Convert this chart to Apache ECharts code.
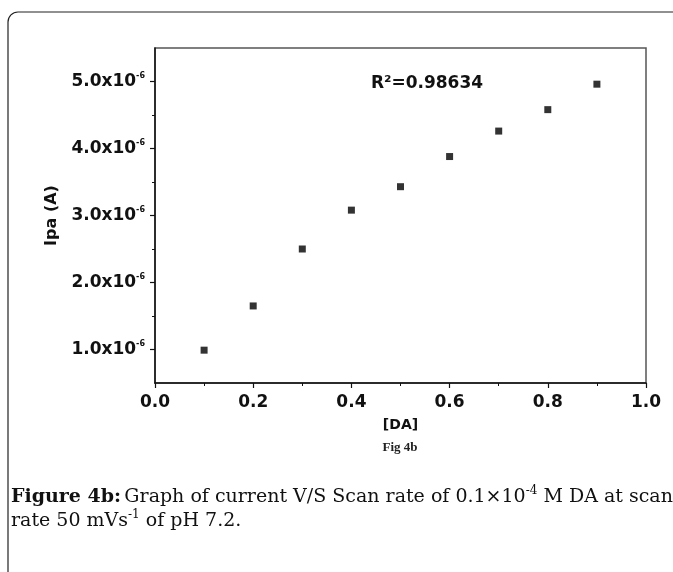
<!DOCTYPE html>
<html><head><meta charset="utf-8">
<script src="https://cdn.jsdelivr.net/npm/echarts@6/dist/echarts.min.js"></script>
<style>html,body{margin:0;padding:0;background:#fff}#c{width:673px;height:572px}</style>
</head><body><div id="c"></div>
<script>
// [DA] concentration values (x) and peak anodic current in units of 1e-6 A (y)
const daValues = [0.1, 0.2, 0.3, 0.4, 0.5, 0.6, 0.7, 0.8, 0.9];
const ipaMicroA = [0.99, 1.65, 2.50, 3.08, 3.43, 3.88, 4.26, 4.58, 4.96];
const xTicks = [0.0, 0.2, 0.4, 0.6, 0.8, 1.0];
const yTicks = [1.0, 2.0, 3.0, 4.0, 5.0];
const yMinorTicks = [1.5, 2.5, 3.5, 4.5];
const rSquaredLabel = 'R²=0.98634';

const chart = echarts.init(document.getElementById('c'), null, {renderer: 'canvas'});
const pts = daValues.map((x, i) => [x, ipaMicroA[i]]);
const axisFont = '"DejaVu Sans", Arial, sans-serif';
const serifFont = '"DejaVu Serif", "Liberation Serif", serif';
chart.setOption({
  animation: false,
  backgroundColor: '#fff',
  grid: {left: 155, top: 48, width: 491, height: 335, show: true, borderColor: '#555', borderWidth: 1.5, backgroundColor: 'transparent'},
  xAxis: {
    type: 'value', min: 0, max: 1, interval: 0.2,
    axisLine: {lineStyle: {color: '#111', width: 1.5}},
    axisTick: {show: true, length: 5, lineStyle: {color: '#111', width: 1.2}},
    minorTick: {show: true, splitNumber: 2, length: 3, lineStyle: {color: '#111', width: 1}},
    splitLine: {show: false},
    axisLabel: {margin: 11, color: '#111', fontFamily: axisFont, fontWeight: 'bold', fontSize: 17,
      formatter: v => v.toFixed(1)},
    name: '[DA]', nameLocation: 'middle', nameGap: 35,
    nameTextStyle: {color: '#111', fontFamily: axisFont, fontWeight: 'bold', fontSize: 14}
  },
  yAxis: [{
    type: 'value', min: 0.5, max: 5.5, interval: 0.5,
    axisLine: {show: true, lineStyle: {color: '#111', width: 1.5}},
    axisTick: {show: true, length: 5, customValues: yTicks, lineStyle: {color: '#111', width: 1.2}},
    splitLine: {show: false},
    axisLabel: {customValues: yTicks, margin: 10, color: '#111',
      formatter: v => '{b|' + v.toFixed(1) + 'x10}{s|-6}',
      rich: {
        b: {fontFamily: axisFont, fontWeight: 'bold', fontSize: 17, lineHeight: 20, color: '#111'},
        s: {fontFamily: axisFont, fontWeight: 'bold', fontSize: 8, lineHeight: 8, verticalAlign: 'top', color: '#111'}
      }},
    name: 'Ipa (A)', nameLocation: 'middle', nameGap: 95, nameRotate: 90,
    nameTextStyle: {color: '#111', fontFamily: axisFont, fontWeight: 'bold', fontSize: 16}
  }, {
    type: 'value', min: 0.5, max: 5.5, interval: 0.5, position: 'left',
    axisLine: {show: false},
    axisTick: {show: true, length: 3, customValues: yMinorTicks, lineStyle: {color: '#111', width: 1}},
    axisLabel: {show: false}, splitLine: {show: false}
  }],
  series: [{
    type: 'scatter', data: pts, symbol: 'rect', symbolSize: 7,
    itemStyle: {color: '#000'}, silent: true
  }],
  graphic: [
    {type: 'rect', shape: {x: 8, y: 12, width: 700, height: 620, r: 10}, style: {fill: 'none', stroke: '#222', lineWidth: 1.2}, silent: true},
    {type: 'text', x: 427, y: 84, style: {text: rSquaredLabel, align: 'center', verticalAlign: 'middle', fontFamily: axisFont, fontWeight: 'bold', fontSize: 17, fill: '#111'}},
    {type: 'text', x: 400, y: 448, style: {text: 'Fig 4b', align: 'center', verticalAlign: 'middle', fontFamily: '"Liberation Serif", serif', fontWeight: 'bold', fontSize: 13, fill: '#222'}},
    {type: 'text', left: 11, top: 485, style: {
      text: '{b|Figure 4b:} {n|Graph of current V/S Scan rate of 0.1×10}{s|-4}{n| M DA at scan}\n{n|rate 50 mVs}{s|-1}{n| of pH 7.2.}',
      rich: {
        b: {fontFamily: serifFont, fontWeight: 'bold', fontSize: 19, lineHeight: 24, fill: '#111'},
        n: {fontFamily: serifFont, fontSize: 19, lineHeight: 24, fill: '#111'},
        s: {fontFamily: serifFont, fontSize: 12, lineHeight: 12, verticalAlign: 'top', fill: '#111'}
      }}}
  ]
});
</script></body></html>
